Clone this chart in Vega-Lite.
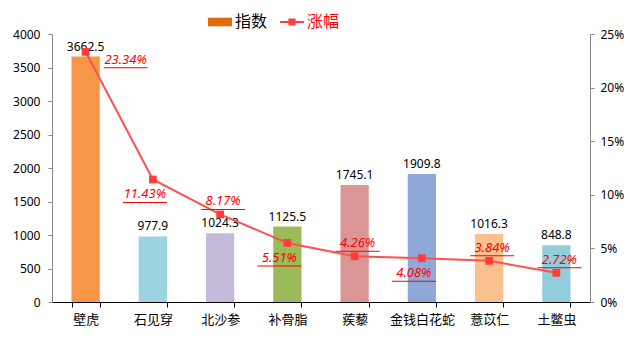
{
  "$schema": "https://vega.github.io/schema/vega-lite/v6.json",
  "autosize": {"type": "none"},
  "width": 538,
  "height": 268,
  "padding": {"left": 52, "top": 34, "right": 40, "bottom": 40},
  "background": "white",
  "config": {
    "view": {"stroke": null},
    "font": "Noto Sans",
    "axis": {"grid": false, "labelFont": "Noto Sans", "labelFontSize": 12, "labelColor": "#000000", "titleFontSize": 0}
  },
  "data": {
    "values": [
      {"name": "壁虎", "index": 3662.5, "chg": 0.2334},
      {"name": "石见穿", "index": 977.9, "chg": 0.1143},
      {"name": "北沙参", "index": 1024.3, "chg": 0.0817},
      {"name": "补骨脂", "index": 1125.5, "chg": 0.0551},
      {"name": "蒺藜", "index": 1745.1, "chg": 0.0426},
      {"name": "金钱白花蛇", "index": 1909.8, "chg": 0.0408},
      {"name": "薏苡仁", "index": 1016.3, "chg": 0.0384},
      {"name": "土鳖虫", "index": 848.8, "chg": 0.0272}
    ]
  },
  "encoding": {
    "x": {
      "field": "name", "type": "nominal", "sort": null,
      "scale": {"paddingInner": 0.58, "paddingOuter": 0.29},
      "axis": {"title": null, "labelAngle": 0, "labelFont": "Noto Sans CJK SC", "labelFontSize": 13, "labelPadding": 6,
               "domainColor": "#000000", "tickColor": "#000000", "tickBand": "extent", "tickSize": 5}
    }
  },
  "layer": [
    {
      "encoding": {
        "y": {"field": "index", "type": "quantitative",
              "scale": {"domain": [0, 4000]},
              "axis": {"title": null, "values": [0, 500, 1000, 1500, 2000, 2500, 3000, 3500, 4000], "format": "d",
                       "domainColor": "#888888", "tickColor": "#888888", "tickSize": 4, "labelPadding": 8}}
      },
      "layer": [
        {
          "mark": {"type": "bar"},
          "encoding": {
            "color": {"field": "name", "type": "nominal", "sort": null, "legend": null,
                      "scale": {"domain": ["壁虎", "石见穿", "北沙参", "补骨脂", "蒺藜", "金钱白花蛇", "薏苡仁", "土鳖虫"],
                                "range": ["#F79646", "#9DD3E1", "#C5B9D9", "#9BBB59", "#D99694", "#8EA9D8", "#FAC090", "#92CDDC"]}}
          }
        },
        {
          "mark": {"type": "text", "baseline": "bottom", "dy": -3, "fontSize": 12, "color": "#000000", "font": "Noto Sans"},
          "encoding": {"text": {"field": "index", "type": "quantitative", "format": ".1f"}}
        }
      ]
    },
    {
      "encoding": {
        "y": {"field": "chg", "type": "quantitative",
              "scale": {"domain": [0, 0.25]},
              "axis": {"orient": "right", "title": null, "values": [0, 0.05, 0.1, 0.15, 0.2, 0.25], "format": ".0%",
                       "domainColor": "#888888", "tickColor": "#888888", "tickSize": 4, "labelPadding": 6}}
      },
      "layer": [
        {
          "mark": {"type": "line", "strokeWidth": 2},
          "encoding": {
            "color": {"datum": "涨幅", "type": "nominal",
                      "scale": {"domain": ["指数", "涨幅"], "range": ["#E36C09", "#FF5050"]},
                      "legend": {
                        "orient": "none", "legendX": 156, "legendY": -24, "direction": "horizontal", "title": null,
                        "symbolSize": 576, "labelFontSize": 16, "labelFont": "Noto Sans CJK SC", "columnPadding": 12, "labelOffset": 3,
                        "encode": {
                          "symbols": {"update": {
                            "shape": {"signal": "datum.value === '指数' ? 'M-1,-0.36H1V0.36H-1Z' : 'M-1,-0.08H1V0.08H-1Z M-0.3,-0.3H0.3V0.3H-0.3Z'"},
                            "fill": {"signal": "datum.value === '指数' ? '#E36C09' : '#FF4040'"},
                            "fillOpacity": {"value": 1},
                            "strokeWidth": {"value": 0}
                          }},
                          "labels": {"update": {"fill": {"signal": "datum.value === '涨幅' ? '#FF0000' : '#000000'"}}}
                        }
                      }}
          }
        },
        {
          "mark": {"type": "point", "shape": "square", "filled": true, "size": 60, "color": "#FF3B3B", "opacity": 1}
        },
        {
          "transform": [{"filter": {"field": "name", "oneOf": ["壁虎"]}}],
          "layer": [
            {"mark": {"type": "text", "fontStyle": "italic", "fontSize": 13, "color": "#FF0000", "dx": 40, "dy": 8},
             "encoding": {"text": {"field": "chg", "type": "quantitative", "format": ".2%"}}},
            {"mark": {"type": "tick", "orient": "horizontal", "size": 44, "thickness": 1, "color": "#FF0000", "xOffset": 40, "yOffset": 16, "opacity": 1}}
          ]
        },
        {
          "transform": [{"filter": {"field": "name", "oneOf": ["石见穿", "补骨脂", "金钱白花蛇"]}}],
          "layer": [
            {"mark": {"type": "text", "fontStyle": "italic", "fontSize": 13, "color": "#FF0000", "dx": -8, "dy": 15},
             "encoding": {"text": {"field": "chg", "type": "quantitative", "format": ".2%"}}},
            {"mark": {"type": "tick", "orient": "horizontal", "size": 44, "thickness": 1, "color": "#FF0000", "xOffset": -8, "yOffset": 23, "opacity": 1}}
          ]
        },
        {
          "transform": [{"filter": {"field": "name", "oneOf": ["北沙参", "蒺藜", "薏苡仁", "土鳖虫"]}}],
          "layer": [
            {"mark": {"type": "text", "fontStyle": "italic", "fontSize": 13, "color": "#FF0000", "dx": 3, "dy": -13},
             "encoding": {"text": {"field": "chg", "type": "quantitative", "format": ".2%"}}},
            {"mark": {"type": "tick", "orient": "horizontal", "size": 44, "thickness": 1, "color": "#FF0000", "xOffset": 3, "yOffset": -5, "opacity": 1}}
          ]
        }
      ]
    }
  ],
  "resolve": {"scale": {"y": "independent", "color": "independent"}}
}
